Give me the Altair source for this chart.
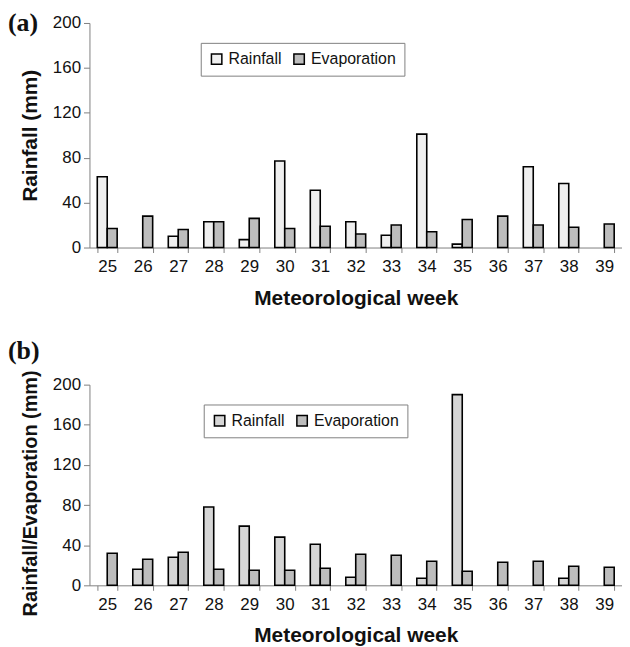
import altair as alt
import pandas as pd

weeks = ["25", "26", "27", "28", "29", "30", "31", "32", "33", "34", "35", "36", "37", "38", "39"]
series = ["Rainfall", "Evaporation"]

rain_a = [63, 0, 10, 23, 7, 77, 51, 23, 11, 101, 3, 0, 72, 57, 0]
evap_a = [17, 28, 16, 23, 26, 17, 19, 12, 20, 14, 25, 28, 20, 18, 21]

rain_b = [0, 16, 28, 78, 59, 48, 41, 8, 0, 7, 190, 0, 0, 7, 0]
evap_b = [32, 26, 33, 16, 15, 15, 17, 31, 30, 24, 14, 23, 24, 19, 18]

y_ticks = [0, 40, 80, 120, 160, 200]

FONT = "Liberation Sans"


def make_df(rain, evap):
    rows = []
    for w, r, e in zip(weeks, rain, evap):
        rows.append({"week": w, "series": "Rainfall", "value": r})
        rows.append({"week": w, "series": "Evaporation", "value": e})
    return pd.DataFrame(rows)


def panel(df, ytitle, ytitle_size, ytitle_y, rain_fill, label, label_y, height, legend_x, legend_y):
    bars = (
        alt.Chart(df)
        .transform_filter("datum.value > 0")
        .mark_bar(stroke="black", strokeWidth=1.6)
        .encode(
            x=alt.X(
                "week:O",
                sort=weeks,
                title="Meteorological week",
                scale=alt.Scale(paddingInner=0.44, paddingOuter=0.22),
                axis=alt.Axis(
                    labelAngle=0,
                    tickBand="extent",
                    domainColor="#808080",
                    tickColor="#808080",
                    tickSize=5,
                    labelPadding=6,
                    labelFont=FONT,
                    labelFontSize=17,
                    labelColor="#111111",
                    titleFont=FONT,
                    titleFontSize=21,
                    titleFontWeight="bold",
                    titleColor="#111111",
                    titlePadding=13,
                ),
            ),
            xOffset=alt.XOffset(
                "series:N",
                sort=series,
                scale=alt.Scale(domain=series, paddingInner=0, paddingOuter=0),
            ),
            y=alt.Y(
                "value:Q",
                title=ytitle,
                scale=alt.Scale(domain=[0, 200]),
                axis=alt.Axis(
                    values=y_ticks,
                    grid=False,
                    domainColor="#808080",
                    tickColor="#808080",
                    tickSize=6,
                    labelPadding=3,
                    labelFont=FONT,
                    labelFontSize=17,
                    labelColor="#111111",
                    titleFont=FONT,
                    titleFontSize=ytitle_size,
                    titleFontWeight="bold",
                    titleColor="#111111",
                    titlePadding=12,
                    titleY=ytitle_y,
                ),
            ),
            fill=alt.Fill(
                "series:N",
                sort=series,
                scale=alt.Scale(domain=series, range=[rain_fill, "#bdbdbd"]),
                legend=alt.Legend(
                    title=None,
                    orient="none",
                    legendX=legend_x,
                    legendY=legend_y,
                    direction="horizontal",
                    strokeColor="#808080",
                    fillColor="white",
                    padding=8,
                    columnPadding=8,
                    labelFont=FONT,
                    labelFontSize=16,
                    labelColor="#111111",
                    labelOffset=4,
                    symbolType="square",
                    symbolSize=110,
                    symbolStrokeColor="black",
                    symbolStrokeWidth=1.5,
                ),
            ),
        )
    )
    tag = (
        alt.Chart(pd.DataFrame({"t": [label]}))
        .mark_text(
            font="Liberation Serif",
            fontWeight="bold",
            fontSize=26,
            align="left",
            baseline="top",
            color="#111111",
        )
        .encode(text="t:N", x=alt.value(-82), y=alt.value(label_y))
    )
    return alt.layer(bars, tag).properties(width=536, height=height)


chart_a = panel(make_df(rain_a, evap_a), "Rainfall (mm)", 21, 113, "#efefef", "(a)", -13, 226, 112, 20)
chart_b = panel(make_df(rain_b, evap_b), "Rainfall/Evaporation (mm)", 20, 109, "#d6d6d6", "(b)", -47, 202, 115, 20)

chart = (
    alt.vconcat(chart_a, chart_b, spacing=30)
    .resolve_scale(fill="independent")
    .resolve_legend(fill="independent")
    .properties(padding={"left": 0, "top": 0, "right": 0, "bottom": 0})
    .configure_view(stroke=None)
)

chart.save("out.html", embed_options={"renderer": "svg", "actions": False})
